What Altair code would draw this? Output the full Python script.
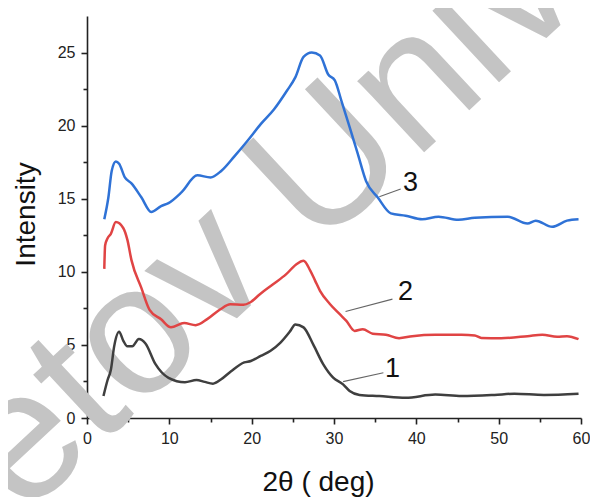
import altair as alt
import pandas as pd

# ---- data ----
x1 = [2.0, 2.5, 2.9, 3.3, 3.9, 4.4, 4.9, 5.5, 6.3, 7.1, 8.3, 9.9, 11.9, 13.3, 14.3, 15.3,
      16.3, 17.5, 19.1, 19.9, 21.1, 22.3, 23.5, 24.7, 25.3, 26.3, 27.5, 28.7, 29.9, 31.1,
      31.9, 33.1, 35.5, 38.7, 42.3, 45.5, 49.5, 51.9, 55.5, 59.7]
y1 = [1.5, 2.6, 3.3, 4.9, 5.9, 5.3, 4.9, 4.9, 5.4, 5.1, 3.7, 2.75, 2.45, 2.6, 2.47, 2.35,
      2.65, 3.2, 3.8, 3.9, 4.25, 4.6, 5.16, 5.96, 6.4, 6.2, 5.0, 3.67, 2.76, 2.3,
      1.85, 1.58, 1.5, 1.39, 1.6, 1.5, 1.58, 1.66, 1.58, 1.66]

x2 = [2.1, 2.2, 2.5, 2.9, 3.5, 4.4, 4.9, 5.4, 6.6, 7.6, 9.0, 10.2, 11.8, 13.2, 14.6, 16.2,
      17.4, 19.0, 19.8, 21.0, 22.6, 24.2, 25.4, 26.3, 27.1, 27.7, 28.3, 29.5, 30.7, 31.5,
      32.5, 33.5, 34.7, 36.3, 37.9, 39.5, 42.3, 45.5, 47.1, 47.9, 50.3, 53.5, 55.3, 57.1,
      58.3, 59.7]
y2 = [10.2, 11.8, 12.3, 12.6, 13.4, 13.0, 12.2, 10.8, 8.9, 7.4, 6.75, 6.2, 6.5, 6.35, 6.76, 7.44,
      7.78, 7.74, 7.9, 8.47, 9.15, 9.84, 10.5, 10.75, 10.1, 9.4, 8.7, 7.8, 7.1, 6.64,
      5.96, 6.07, 5.77, 5.7, 5.46, 5.6, 5.7, 5.7, 5.65, 5.48, 5.46, 5.6, 5.7, 5.55,
      5.6, 5.39]

x3 = [2.1, 2.6, 3.0, 3.5, 3.9, 4.6, 5.4, 6.6, 7.8, 9.0, 9.9, 11.5, 13.4, 15.0, 16.3, 17.9,
      19.5, 21.1, 22.7, 24.3, 25.3, 26.3, 27.3, 28.3, 29.3, 30.1, 30.9, 31.9, 32.9, 33.9,
      35.3, 36.9, 38.7, 40.7, 42.7, 45.1, 47.1, 51.1, 53.5, 54.5, 56.5, 58.3, 59.7]
y3 = [13.6, 15.1, 16.9, 17.55, 17.4, 16.46, 16.05, 15.1, 14.1, 14.5, 14.7, 15.45, 16.6, 16.46, 16.9, 17.9,
      18.97, 20.1, 21.1, 22.4, 23.3, 24.7, 25.0, 24.8, 23.5, 23.1, 21.7, 19.9, 18.05, 16.2,
      15.1, 14.0, 13.84, 13.6, 13.77, 13.56, 13.7, 13.77, 13.3, 13.5, 13.08, 13.5, 13.6]

series_names = ["1", "2", "3"]
series_colors = ["#3f3f3f", "#e04444", "#2f72d6"]

label_text = ["1", "2", "3"]
label_x = [37.1, 38.7, 39.3]
label_y = [3.34, 8.65, 16.1]
leader_x = [31.1, 31.4, 35.5]
leader_y = [2.49, 7.28, 15.14]
leader_x2 = [36.0, 37.1, 38.1]
leader_y2 = [3.1, 8.13, 15.66]

x_ticks = [0, 5, 10, 15, 20, 25, 30, 35, 40, 45, 50, 55, 60]
y_ticks = [0, 2.5, 5, 7.5, 10, 12.5, 15, 17.5, 20, 22.5, 25]

watermark_words = ["etov", "University"]

# ---- build ----
rows = []
for name, xs, ys in zip(series_names, [x1, x2, x3], [y1, y2, y3]):
    for a, b in zip(xs, ys):
        rows.append({"series": name, "x": a, "y": b})
df = pd.DataFrame(rows)

labels_df = pd.DataFrame({"label": label_text, "x": label_x, "y": label_y})
leaders_df = pd.DataFrame({"x": leader_x, "y": leader_y, "x2": leader_x2, "y2": leader_y2})

FONT = "Liberation Sans"

xscale = alt.Scale(domain=[0, 60], nice=False, zero=False)
yscale = alt.Scale(domain=[0, 27.5], nice=False, zero=False)

x_axis = alt.Axis(
    values=x_ticks,
    labelExpr="datum.value % 10 === 0 ? datum.label : ''",
    tickSize={"condition": {"test": "datum.value % 10 === 0", "value": 6}, "value": 4},
    title="2θ ( deg)", titleFontSize=28, titleFontWeight="normal", titleFont=FONT,
    titleX=231, titleY=72, titleBaseline="alphabetic", titleAlign="center",
    titleColor="#111111",
    labelFontSize=16, labelFont=FONT, labelColor="#222222", labelPadding=6,
    labelOverlap=False, labelFlush=False, grid=False,
    domainColor="#222222", domainWidth=1.6, tickColor="#222222", tickWidth=1.6,
)
y_axis = alt.Axis(
    values=y_ticks,
    labelExpr="datum.value % 5 === 0 ? datum.label : ''",
    tickSize={"condition": {"test": "datum.value % 5 === 0", "value": 6}, "value": 4},
    title="Intensity", titleFontSize=28, titleFontWeight="normal", titleFont=FONT,
    titleX=-53, titleY=198, titleBaseline="alphabetic", titleAlign="center", titleAngle=270,
    titleColor="#111111",
    labelFontSize=16, labelFont=FONT, labelColor="#222222", labelPadding=6,
    labelOverlap=False, labelFlush=False, grid=False,
    domainColor="#222222", domainWidth=1.6, tickColor="#222222", tickWidth=1.6,
)

wm_style = dict(font=FONT, fontSize=185, angle=317, align="left", baseline="alphabetic",
                color="#c4c4c4")
wm1 = alt.Chart(pd.DataFrame({"t": [watermark_words[0]]})).mark_text(**wm_style).encode(
    text="t:N", x=alt.value(-64.6), y=alt.value(502.5))
wm2 = alt.Chart(pd.DataFrame({"t": [watermark_words[1]]})).mark_text(**wm_style).encode(
    text="t:N", x=alt.value(230), y=alt.value(236))

lines = alt.Chart(df).mark_line(strokeWidth=2.5, interpolate="monotone").encode(
    x=alt.X("x:Q", scale=xscale, axis=x_axis),
    y=alt.Y("y:Q", scale=yscale, axis=y_axis),
    color=alt.Color("series:N", scale=alt.Scale(domain=series_names, range=series_colors), legend=None),
)

leaders = alt.Chart(leaders_df).mark_rule(color="#666666", strokeWidth=1.1).encode(
    x=alt.X("x:Q", scale=xscale), y=alt.Y("y:Q", scale=yscale),
    x2="x2:Q", y2="y2:Q",
)

labels = alt.Chart(labels_df).mark_text(
    font=FONT, fontSize=27, color="#111111", align="center", baseline="middle",
).encode(x=alt.X("x:Q", scale=xscale), y=alt.Y("y:Q", scale=yscale), text="label:N")

chart = alt.layer(wm1, wm2, lines, leaders, labels).properties(
    width=494, height=402,
    padding={"left": 79, "top": 8, "right": 9, "bottom": 79},
    autosize=alt.AutoSizeParams(type="none"),
).configure_view(stroke=None)

chart.save("out.html", embed_options={"renderer": "svg", "actions": False})
